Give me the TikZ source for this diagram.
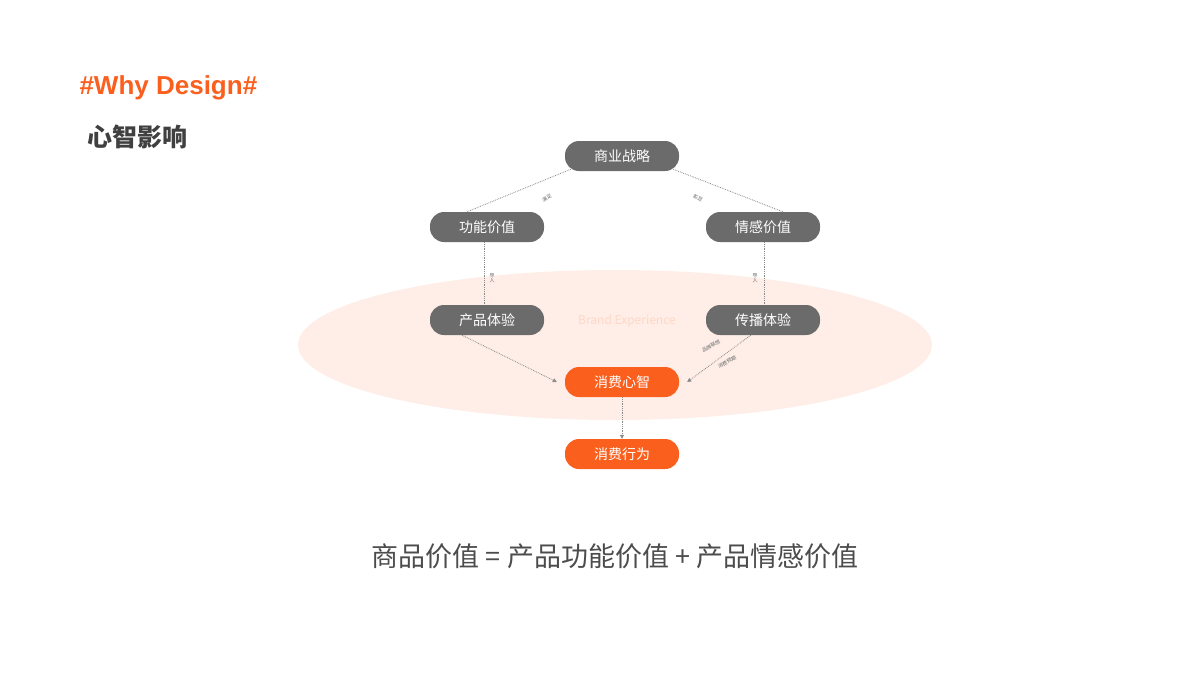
\documentclass[tikz,border=0pt]{standalone}
\usepackage{fontspec}
\setmainfont{Noto Sans CJK SC}
\newfontfamily\titlefont{Liberation Sans}
\usetikzlibrary{arrows.meta}
\definecolor{og}{HTML}{FA5F1E}
\definecolor{gr}{HTML}{6B6B6B}
\begin{document}
\begin{tikzpicture}[x=1pt,y=-1pt,
 pill/.style={rounded corners=14pt,minimum width=114pt,minimum height=30pt,inner sep=0pt,text=white,font=\fontsize{14}{14}\selectfont},
 gp/.style={pill,fill=gr},
 op/.style={pill,fill=og},
 dl/.style={draw=gr!80,densely dotted,line width=0.8pt},
 ar/.style={dl,-{Triangle[length=4pt,width=4pt]}},
 lb/.style={font=\fontsize{5}{5}\selectfont,text=gr,inner sep=0pt}]
\useasboundingbox (0,0) rectangle (1200,675);
\fill[og!12,opacity=0.9] (615,345) ellipse [x radius=317,y radius=75];
\node[text=og!25,font=\fontsize{12}{12}\selectfont] (be) at (627,321) {Brand Experience};
\node[gp] (a) at (622,156) {商业战略};
\node[gp] (b) at (487,227) {功能价值};
\node[gp] (c) at (763,227) {情感价值};
\node[gp] (d) at (487,320) {产品体验};
\node[gp] (e) at (763,320) {传播体验};
\node[op] (f) at (622,382) {消费心智};
\node[op] (g) at (622,454) {消费行为};
\draw[dl] (a.south west)++(6,-2) -- ([xshift=-20]b.north);
\draw[dl] (a.south east)++(-6,-2) -- ([xshift=20]c.north);
\node[lb,rotate=30] at (547,198) {满足};
\node[lb,rotate=-30] at (698,198) {彰显};
\draw[dl] ([xshift=-3]b.south) -- ([xshift=-3]d.north);
\draw[dl] ([xshift=1]c.south) -- ([xshift=1]e.north);
\node[lb,align=center] at (492,278) {导\\入};
\node[lb,align=center] at (755,278) {导\\入};
\draw[ar] ([xshift=-25]d.south) -- ([xshift=-8]f.west);
\draw[ar] ([xshift=45]e.south west) -- ([xshift=8]f.east);
\node[lb,rotate=30] at (711,346) {品牌联想};
\node[lb,rotate=30] at (727,362) {消费预期};
\draw[ar] (f.south) -- (g.north);
\node[anchor=west,text=og,font=\titlefont\fontsize{26}{26}\selectfont\bfseries] (t) at (76,88) {\#Why Design\#};
\node[anchor=west,text=black!75,font=\fontsize{25}{25}\selectfont\bfseries] (s) at (84,137) {心智影响};
\node[text=black!70,font=\fontsize{27}{27}\selectfont] (q) at (615,556) {商品价值\ =\ 产品功能价值\ +\ 产品情感价值};
\end{tikzpicture}
\end{document}
